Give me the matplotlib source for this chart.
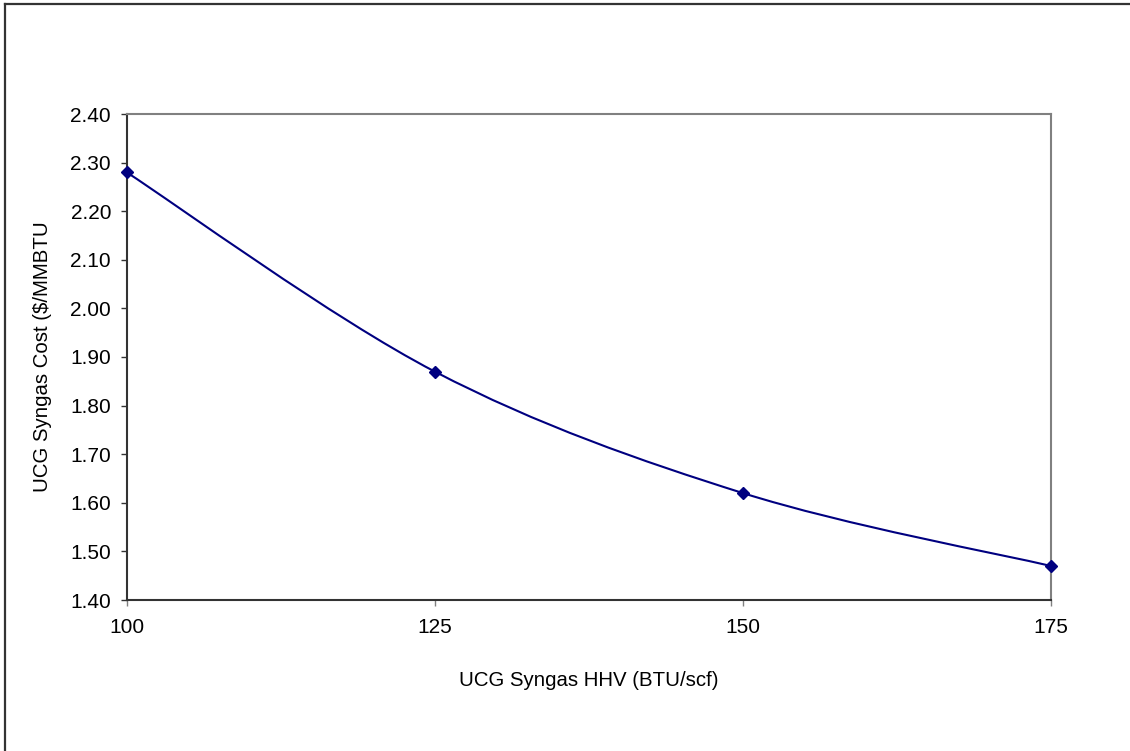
import numpy as np
import matplotlib
matplotlib.use("Agg")
import matplotlib.pyplot as plt
from matplotlib.path import Path
import matplotlib.patches as mpatches

plt.rcParams['font.family'] = ['Liberation Sans', 'DejaVu Sans']

# data
hhv = [100, 125, 150, 175]
cost = [2.28, 1.87, 1.62, 1.47]
yticks = [1.40, 1.50, 1.60, 1.70, 1.80, 1.90, 2.00, 2.10, 2.20, 2.30, 2.40]
xticks = [100, 125, 150, 175]

line_col = '#000080'

fig = plt.figure(figsize=(11.3, 7.51), dpi=100)
W, H = 1130, 751
ax = fig.add_axes([126.7 / W, 1 - 600 / H, (1051 - 126.7) / W, (600 - 114) / H])

# Excel style smoothed line: cubic bezier, catmull-rom control points
pts = np.column_stack([hhv, cost]).astype(float)
ext = np.vstack([pts[0], pts, pts[-1]])
verts = [pts[0]]
codes = [Path.MOVETO]
for i in range(len(pts) - 1):
    p0, p1, p2, p3 = ext[i], ext[i + 1], ext[i + 2], ext[i + 3]
    verts += [p1 + (p2 - p0) / 6, p2 - (p3 - p1) / 6, p2]
    codes += [Path.CURVE4] * 3
ax.add_patch(mpatches.PathPatch(Path(verts, codes), facecolor='none',
                                edgecolor=line_col, lw=1.5, zorder=3,
                                clip_on=False))
ax.plot(hhv, cost, ls='none', marker='D', ms=6.5, color=line_col, zorder=4,
        clip_on=False)

ax.set_xlim(100, 175)
ax.set_ylim(1.40, 2.40)
ax.set_xticks(xticks)
ax.set_yticks(yticks)
ax.set_yticklabels(['%.2f' % v for v in yticks])

for s in ['top', 'right']:
    ax.spines[s].set_color('#808080')
for s in ['left', 'bottom']:
    ax.spines[s].set_color('#333333')
for s in ax.spines.values():
    s.set_linewidth(1.5)

ax.tick_params(axis='y', direction='out', length=4.3, width=1, color='#333333',
               labelsize=15, pad=7)
ax.tick_params(axis='x', direction='out', length=4.3, width=1, color='#808080',
               labelsize=15, pad=9)

ax.set_xlabel('UCG Syngas HHV (BTU/scf)', fontsize=14.7, labelpad=24)
ax.set_ylabel('UCG Syngas Cost ($/MMBTU', fontsize=14.7, labelpad=13)

# outer chart border (only top and left visible in the crop)
fig.add_artist(plt.Line2D([5 / W, 5 / W], [0, 1 - 4 / H], color='#333333',
                          lw=1.6, transform=fig.transFigure))
fig.add_artist(plt.Line2D([5 / W, 1], [1 - 4 / H, 1 - 4 / H], color='#333333',
                          lw=1.6, transform=fig.transFigure))

fig.savefig('out.png', dpi=100)
